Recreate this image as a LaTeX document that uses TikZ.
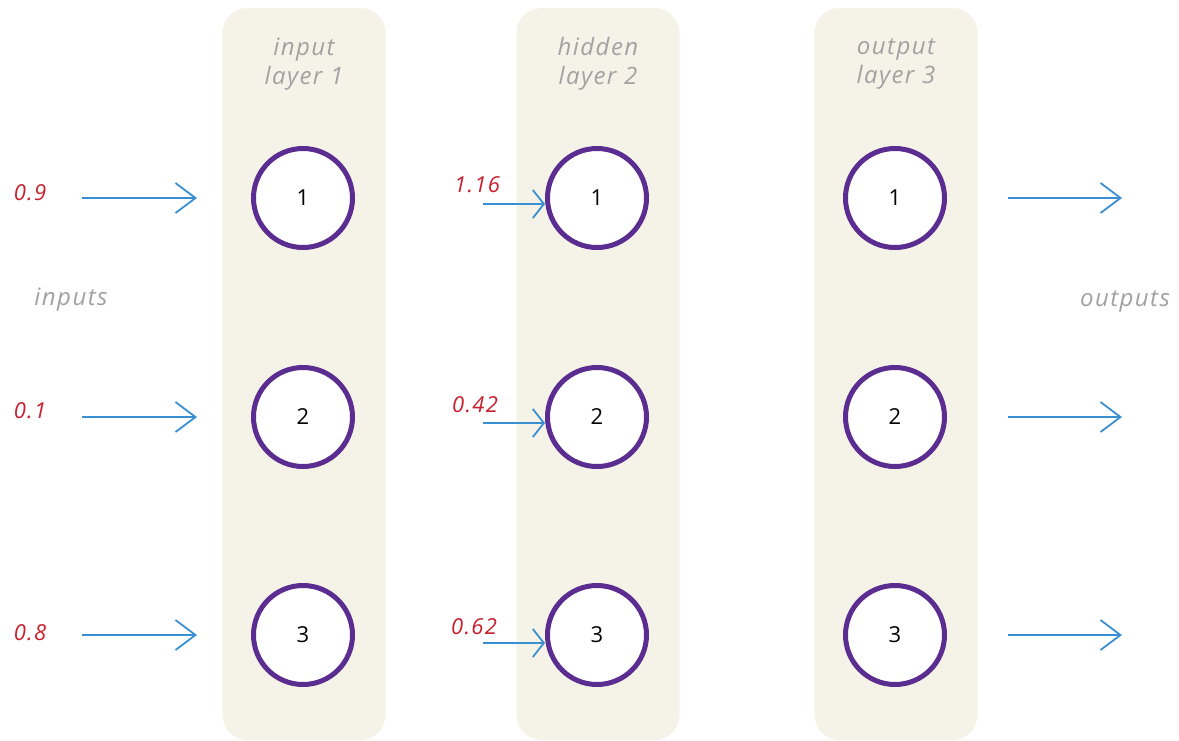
\documentclass[tikz,border=0pt]{standalone}
\usepackage{fontspec}
\setmainfont{Open Sans}
\newfontfamily\graylabelfont[LetterSpace=6]{Open Sans}
\newfontfamily\valfont[LetterSpace=6]{Open Sans}
\usetikzlibrary{arrows.meta}
\definecolor{boxfill}{HTML}{F5F3E8}
\definecolor{ringcol}{HTML}{5C2D91}
\definecolor{arrowcol}{HTML}{3A8ED2}
\definecolor{valcol}{HTML}{C8202F}
\definecolor{graytext}{HTML}{A2A2A2}
\tikzset{
  layerbox/.style={fill=boxfill, draw=none, rounded corners=25pt, minimum width=163pt, minimum height=732pt, inner sep=0pt},
  titletext/.style={text=graytext, align=center, font=\graylabelfont\fontsize{24}{29}\selectfont\itshape, inner sep=0pt},
  sidetext/.style={text=graytext, font=\graylabelfont\fontsize{24}{29}\selectfont\itshape, inner sep=0pt},
  neuron/.style={circle, draw=ringcol, line width=5pt, fill=white, minimum size=99pt, inner sep=0pt, font=\fontsize{22}{24}\selectfont},
  valtext/.style={text=valcol, font=\valfont\fontsize{22}{26}\selectfont\itshape, inner sep=0pt},
  bigarrow/.style={draw=arrowcol, line width=1.8pt, -{Straight Barb[length=20pt,width=30pt,line width=1.8pt]}},
  smallarrow/.style={draw=arrowcol, line width=1.8pt, -{Straight Barb[length=11pt,width=28pt,line width=1.8pt]}},
}
\begin{document}
\begin{tikzpicture}[x=1pt,y=-1pt]
\useasboundingbox (0,0) rectangle (1179,740);
\fill[white] (0,0) rectangle (1179,740);

% layer boxes
\node[layerbox] (L1) at (304,374) {};
\node[layerbox] (L2) at (598,374) {};
\node[layerbox] (L3) at (896,374) {};

% layer titles
\node[titletext] (T1) at (304,64) {input\\layer 1};
\node[titletext] (T2) at (598,64) {hidden\\layer 2};
\node[titletext] (T3) at (896,64) {output\\layer 3};

% neurons
\node[neuron] (c11) at (303,198) {1};
\node[neuron] (c12) at (303,417) {2};
\node[neuron] (c13) at (303,635) {3};
\node[neuron] (c21) at (597,198) {1};
\node[neuron] (c22) at (597,417) {2};
\node[neuron] (c23) at (597,635) {3};
\node[neuron] (c31) at (895,198) {1};
\node[neuron] (c32) at (895,417) {2};
\node[neuron] (c33) at (895,635) {3};

% side labels
\node[sidetext] (inl) at (71,300) {inputs};
\node[sidetext] (outl) at (1125,301) {outputs};

% input values and arrows
\node[valtext] (v1) at (30,193) {0.9};
\node[valtext] (v2) at (30,411) {0.1};
\node[valtext] (v3) at (30,633) {0.8};
\coordinate (a1s) at (82,198); \coordinate (a1e) at (197,198);
\coordinate (a2s) at (82,417); \coordinate (a2e) at (197,417);
\coordinate (a3s) at (82,635); \coordinate (a3e) at (197,635);
\draw[bigarrow] (a1s) -- (a1e);
\draw[bigarrow] (a2s) -- (a2e);
\draw[bigarrow] (a3s) -- (a3e);

% hidden layer inputs
\node[valtext] (h1) at (477,185) {1.16};
\node[valtext] (h2) at (475,405) {0.42};
\node[valtext] (h3) at (474,627) {0.62};
\coordinate (b1s) at (483,204);
\coordinate (b2s) at (483,423);
\coordinate (b3s) at (483,643);
\draw[smallarrow] (b1s) -- (b1s -| c21.west);
\draw[smallarrow] (b2s) -- (b2s -| c22.west);
\draw[smallarrow] (b3s) -- (b3s -| c23.west);

% output arrows
\coordinate (o1s) at (1008,198); \coordinate (o1e) at (1122,198);
\coordinate (o2s) at (1008,417); \coordinate (o2e) at (1122,417);
\coordinate (o3s) at (1008,635); \coordinate (o3e) at (1122,635);
\draw[bigarrow] (o1s) -- (o1e);
\draw[bigarrow] (o2s) -- (o2e);
\draw[bigarrow] (o3s) -- (o3e);
\end{tikzpicture}
\end{document}
